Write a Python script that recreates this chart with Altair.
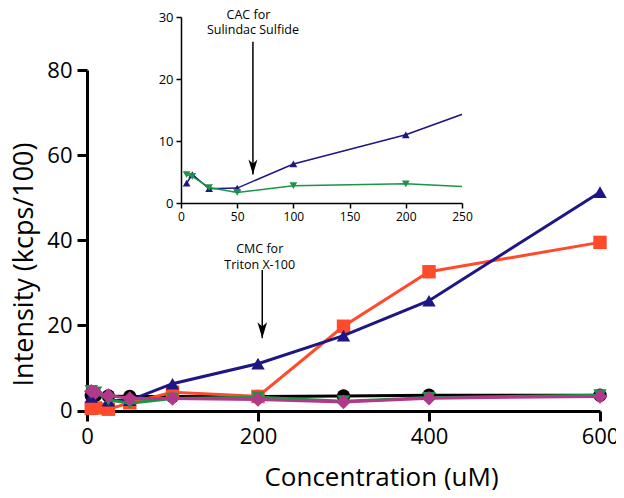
import altair as alt
import pandas as pd

# ---------------- data ----------------
conc = [5, 10, 25, 50, 100, 200, 300, 400, 600]
black_circle = [3.5, 3.6, 3.4, 3.3, 3.3, 3.3, 3.4, 3.6, 3.6]
orange_square = [0.5, 0.6, 0.3, 1.8, 4.3, 3.3, 19.8, 32.6, 39.5]
blue_triangle = [3.2, 4.6, 2.3, 2.4, 6.3, 11.0, 17.6, 25.8, 51.3]
green_triangle_down = [4.6, 4.3, 2.5, 1.7, 2.8, 3.1, 2.2, 3.0, 3.6]
magenta_diamond = [4.5, 4.2, 3.5, 2.8, 2.8, 2.6, 2.0, 2.9, 3.3]

main_x_ticks = [0, 200, 400, 600]
main_y_ticks = [0, 20, 40, 60, 80]
inset_x_ticks = [0, 50, 100, 150, 200, 250]
inset_y_ticks = [0, 10, 20, 30]

main_text_x = [202, 202]
main_text_y = [38.0, 34.1]
main_text = ["CMC for", "Triton X-100"]
main_arrow_x = [205]
main_arrow_y_start = [33.0]
main_arrow_y_tip = [17.0]

inset_text_x = [60, 64]
inset_text_y = [30.35, 27.95]
inset_text = ["CAC for", "Sulindac Sulfide"]
inset_arrow_x = [64]
inset_arrow_y_start = [26.0]
inset_arrow_y_tip = [4.6]

FONT = "Open Sans"
BLUE = "#1d1684"
ORANGE = "#ff4a2c"
GREEN = "#1b9545"
MAGENTA = "#b1388b"
BLACK = "#000000"

series = [
    ("black", black_circle, BLACK, "circle"),
    ("orange", orange_square, ORANGE, "square"),
    ("blue", blue_triangle, BLUE, "triangle-up"),
    ("green", green_triangle_down, GREEN, "triangle-down"),
    ("magenta", magenta_diamond, MAGENTA, "diamond"),
]

# view = inset rectangle; main plot placed through explicit scale ranges
VW, VH = 281, 186

main_x = alt.X(
    "x:Q",
    scale=alt.Scale(domain=[0, 600], range=[-94, 419], nice=False, zero=False),
    axis=alt.Axis(
        orient="bottom", offset=208, values=main_x_ticks, grid=False,
        domainWidth=3, domainColor=BLACK, tickWidth=3, tickColor=BLACK, tickSize=10,
        labelFont=FONT, labelFontSize=22, labelColor=BLACK, labelPadding=5,
        labelFlush=False, labelOverlap=False,
        title="Concentration (uM)", titleFont=FONT, titleFontSize=26,
        titleFontWeight="normal", titleColor=BLACK,
        titleX=200, titleY=74, titleBaseline="alphabetic", titleAlign="center",
    ),
)
main_y = alt.Y(
    "y:Q",
    scale=alt.Scale(domain=[0, 80], range=[393.5, 53], nice=False, zero=False),
    axis=alt.Axis(
        orient="left", offset=94, values=main_y_ticks, grid=False,
        domainWidth=3, domainColor=BLACK, tickWidth=3, tickColor=BLACK, tickSize=10,
        labelFont=FONT, labelFontSize=22, labelColor=BLACK, labelPadding=5,
        labelFlush=False, labelOverlap=False,
        title="Intensity (kcps/100)", titleFont=FONT, titleFontSize=27,
        titleFontWeight="normal", titleColor=BLACK,
        titleX=-55, titleY=247, titleAngle=-90, titleBaseline="alphabetic",
        titleAlign="center",
    ),
)

inset_x = alt.X(
    "x:Q",
    scale=alt.Scale(domain=[0, 250], nice=False, zero=False),
    axis=alt.Axis(
        orient="bottom", offset=0, values=inset_x_ticks, grid=False,
        domainWidth=1.5, domainColor=BLACK, tickWidth=1.5, tickColor=BLACK, tickSize=5,
        labelFont=FONT, labelFontSize=12, labelColor=BLACK, labelPadding=3,
        labelFlush=False, labelOverlap=False, title=None,
    ),
)
inset_y = alt.Y(
    "y:Q",
    scale=alt.Scale(domain=[0, 30], nice=False, zero=False),
    axis=alt.Axis(
        orient="left", offset=0, values=inset_y_ticks, grid=False,
        domainWidth=1.5, domainColor=BLACK, tickWidth=1.5, tickColor=BLACK, tickSize=5,
        labelFont=FONT, labelFontSize=13, labelColor=BLACK, labelPadding=3,
        labelFlush=False, labelOverlap=False, title=None,
    ),
)

ARROW = "M0,0 L-0.3,-1 L0,-0.72 L0.3,-1 Z"

# ---------------- main plot ----------------
main_layers = []
for name, vals, color, shape in series:
    df = pd.DataFrame({"x": conc, "y": vals})
    base = alt.Chart(df)
    main_layers.append(
        base.mark_line(color=color, strokeWidth=3, clip=False).encode(x=main_x, y=main_y)
    )
    main_layers.append(
        base.mark_point(shape=shape, size=180 if shape != "diamond" else 210,
                        filled=True, color=color, opacity=1, clip=False)
        .encode(x=main_x, y=main_y)
    )

mt = pd.DataFrame({"x": main_text_x, "y": main_text_y, "t": main_text})
main_layers.append(
    alt.Chart(mt).mark_text(font=FONT, fontSize=12.5, color=BLACK, baseline="middle",
                            align="center").encode(x=main_x, y=main_y, text="t:N")
)
ma = pd.DataFrame({"x": main_arrow_x, "y": main_arrow_y_start, "y2": main_arrow_y_tip})
main_layers.append(
    alt.Chart(ma).mark_rule(color=BLACK, strokeWidth=1.5)
    .encode(x=main_x, y=main_y, y2="y2:Q")
)
mh = pd.DataFrame({"x": main_arrow_x, "y": main_arrow_y_tip})
main_layers.append(
    alt.Chart(mh).mark_point(shape=ARROW, size=1024, filled=True, color=BLACK, opacity=1)
    .encode(x=main_x, y=main_y)
)
main = alt.layer(*main_layers)

# ---------------- inset ----------------
inset_layers = []
for name, vals, color, shape in series:
    if name not in ("blue", "green"):
        continue
    df = pd.DataFrame({"x": conc, "y": vals})
    base = alt.Chart(df)
    inset_layers.append(
        base.mark_line(color=color, strokeWidth=1.5, clip=True).encode(x=inset_x, y=inset_y)
    )
    inset_layers.append(
        base.mark_point(shape=shape, size=60, filled=True, color=color, opacity=1, clip=True)
        .encode(x=inset_x, y=inset_y)
    )

it = pd.DataFrame({"x": inset_text_x, "y": inset_text_y, "t": inset_text})
inset_layers.append(
    alt.Chart(it).mark_text(font=FONT, fontSize=12.5, color=BLACK, baseline="middle",
                            align="center").encode(x=inset_x, y=inset_y, text="t:N")
)
ia = pd.DataFrame({"x": inset_arrow_x, "y": inset_arrow_y_start, "y2": inset_arrow_y_tip})
inset_layers.append(
    alt.Chart(ia).mark_rule(color=BLACK, strokeWidth=1.5)
    .encode(x=inset_x, y=inset_y, y2="y2:Q")
)
ih = pd.DataFrame({"x": inset_arrow_x, "y": inset_arrow_y_tip})
inset_layers.append(
    alt.Chart(ih).mark_point(shape=ARROW, size=900, filled=True, color=BLACK, opacity=1)
    .encode(x=inset_x, y=inset_y)
)
inset = alt.layer(*inset_layers)

chart = (
    alt.layer(main, inset)
    .resolve_scale(x="independent", y="independent")
    .resolve_axis(x="independent", y="independent")
    .properties(
        width=VW, height=VH,
        autosize=alt.AutoSizeParams(type="none"),
        padding={"left": 173, "top": 9, "right": 154, "bottom": 287},
        background="white",
    )
    .configure_view(stroke=None)
)

chart.save("out.html", embed_options={"renderer": "svg", "actions": False})
